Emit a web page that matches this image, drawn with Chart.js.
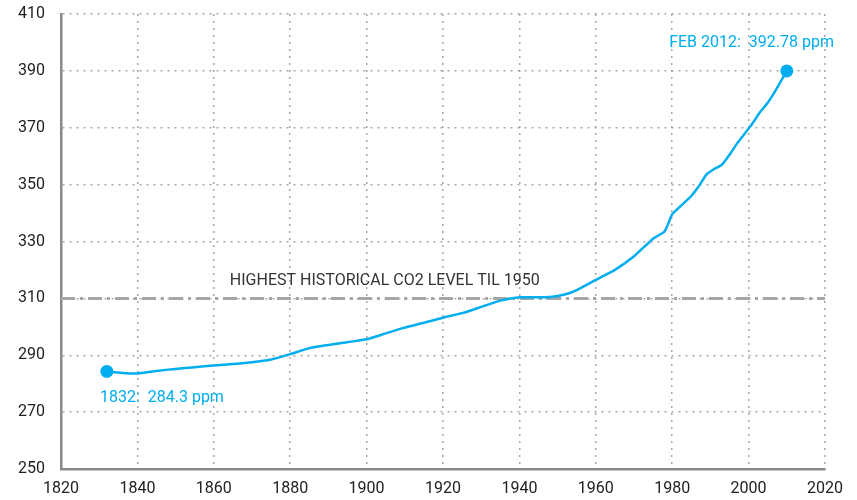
<!DOCTYPE html>
<html>
<head>
<meta charset="utf-8">
<script src="https://cdn.jsdelivr.net/npm/chart.js@4"></script>
<style>
  html, body { margin: 0; padding: 0; background: #fff; }
  #wrap { width: 857px; height: 500px; }
</style>
</head>
<body>
<div id="wrap"><canvas id="co2Chart" width="857" height="500"></canvas></div>
<script>
// CO2 concentration (ppm) by year
const years = [1832, 1836, 1840, 1845, 1850, 1855, 1860, 1865, 1870, 1875, 1880, 1885, 1890, 1895, 1900,
               1905, 1910, 1915, 1920, 1925, 1930, 1935, 1940, 1945, 1948, 1950, 1953, 1955, 1960, 1965,
               1970, 1975, 1978, 1980, 1982, 1985, 1987, 1989, 1991, 1993, 1995, 1997, 1999, 2001, 2003,
               2005, 2007, 2010];
const co2 = [284.3, 283.8, 283.6, 284.5, 285.2, 285.8, 286.4, 286.9, 287.5, 288.5, 290.4, 292.5, 293.6, 294.6, 295.6,
             297.7, 299.7, 301.4, 303.2, 304.8, 307.0, 309.2, 310.4, 310.4, 310.5, 310.8, 311.8, 312.9, 316.5, 320.0,
             324.8, 331.0, 333.5, 339.6, 342.2, 346.0, 349.5, 353.6, 355.5, 357.0, 360.5, 364.5, 368.0, 371.5, 375.5,
             378.8, 383.0, 390.0];

const thresholdYears = [1820, 2020];
const thresholdLevel = 310;

const yTicks = [250, 270, 290, 310, 330, 350, 370, 390, 410];
const xTicks = [1820, 1840, 1860, 1880, 1900, 1920, 1940, 1960, 1980, 2000, 2020];

const blue = '#00AEEF';
const fontFamily = 'Roboto, "Noto Sans", sans-serif';

// text annotations drawn at data coordinates
const notes = [
  { x: 1864.2, y: 316.1, text: 'HIGHEST HISTORICAL CO2 LEVEL TIL 1950', color: '#333333' },
  { x: 1830.2, y: 275.0, text: '1832:  284.3 ppm', color: blue },
  { x: 1979.2, y: 399.8, text: 'FEB 2012:  392.78 ppm', color: blue }
];

const notesPlugin = {
  id: 'notes',
  afterDatasetsDraw(chart) {
    const ctx = chart.ctx;
    const xs = chart.scales.x, ys = chart.scales.y;
    ctx.save();
    ctx.font = '16px ' + fontFamily;
    ctx.textBaseline = 'middle';
    ctx.textAlign = 'left';
    notes.forEach(n => {
      ctx.fillStyle = n.color;
      ctx.fillText(n.text, xs.getPixelForValue(n.x), ys.getPixelForValue(n.y));
    });
    ctx.restore();
  }
};

const lineData = years.map((y, i) => ({ x: y, y: co2[i] }));
const pointSizes = years.map((y, i) => (i === 0 || i === years.length - 1) ? 6.5 : 0);

new Chart(document.getElementById('co2Chart').getContext('2d'), {
  type: 'line',
  data: {
    datasets: [
      {
        data: thresholdYears.map(y => ({ x: y, y: thresholdLevel })),
        borderColor: '#a6a6a6',
        borderWidth: 3,
        borderDash: [14, 5, 3, 5],
        pointRadius: 0,
        order: 2
      },
      {
        data: lineData,
        borderColor: blue,
        backgroundColor: blue,
        borderWidth: 2.5,
        pointRadius: pointSizes,
        pointBorderWidth: 0,
        tension: 0.15,
        order: 1
      }
    ]
  },
  options: {
    responsive: false,
    animation: false,
    layout: { padding: { left: 0, right: 32, top: 14, bottom: 0 } },
    plugins: {
      legend: { display: false },
      tooltip: { enabled: false }
    },
    scales: {
      x: {
        type: 'linear',
        min: 1820,
        max: 2020,
        afterBuildTicks: axis => { axis.ticks = xTicks.map(v => ({ value: v })); },
        afterFit: axis => { axis.height = 31; axis.paddingLeft = 0; axis.paddingRight = 0; },
        ticks: {
          color: '#222',
          font: { size: 16, family: fontFamily },
          padding: 10,
          callback: v => String(v),
          maxRotation: 0
        },
        grid: {
          color: '#a8a8a8',
          lineWidth: 1.5,
          drawTicks: false
        },
        border: { display: true, color: '#888888', width: 2.5, dash: [2, 5] }
      },
      y: {
        type: 'linear',
        min: 250,
        max: 410,
        afterBuildTicks: axis => { axis.ticks = yTicks.map(v => ({ value: v })); },
        afterFit: axis => { axis.width = 61; axis.paddingTop = 0; axis.paddingBottom = 0; },
        ticks: {
          color: '#222',
          font: { size: 16, family: fontFamily },
          padding: 16
        },
        grid: {
          color: '#a8a8a8',
          lineWidth: 1.5,
          drawTicks: false
        },
        border: { display: true, color: '#888888', width: 2.5, dash: [2, 5] }
      }
    }
  },
  plugins: [notesPlugin]
});
</script>
</body>
</html>
